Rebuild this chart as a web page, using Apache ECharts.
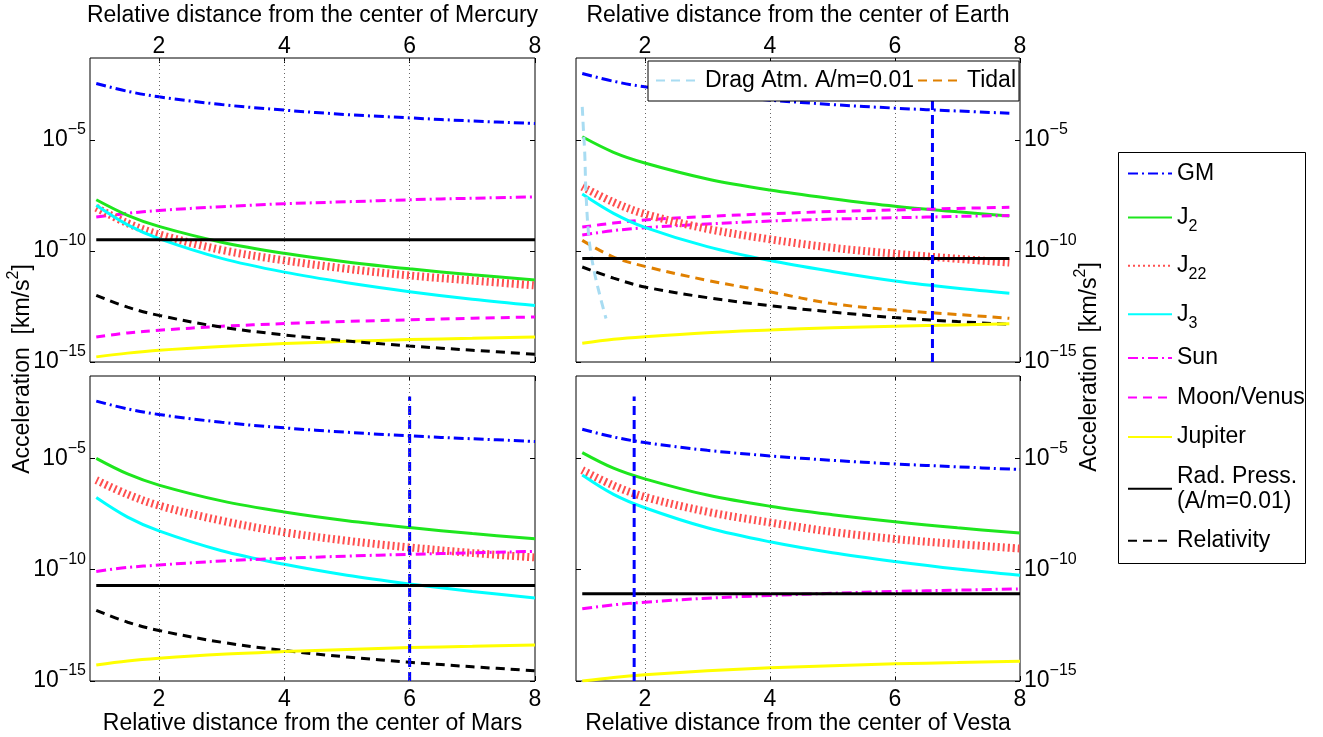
<!DOCTYPE html>
<html>
<head>
<meta charset="utf-8">
<script src="https://cdn.jsdelivr.net/npm/echarts@6/dist/echarts.min.js"></script>
<style>
html, body { margin: 0; padding: 0; background: #fff; }
#main { width: 1323px; height: 737px; }
</style>
</head>
<body>
<div id="main"></div>
<script>
// distance samples (in planet radii)
var xs = [1, 1.5, 2, 3, 4, 5, 6, 7, 8];
var xsEarth = [1, 1.5, 2, 3, 4, 5, 6, 7, 7.83];
var xTicks = [2, 4, 6, 8];
var yTicks = [1e-15, 1e-10, 1e-5];
var gridX = [2, 4, 6];
var gridY = [1e-10, 1e-5];

// Mercury
var mercuryGM = [3.55e-3, 1.58e-3, 8.91e-4, 3.98e-4, 2.24e-4, 1.41e-4, 1.0e-4, 7.24e-5, 5.62e-5];
var mercuryJ2 = [2.04e-8, 4.07e-9, 1.29e-9, 2.51e-10, 7.94e-11, 3.24e-11, 1.58e-11, 8.51e-12, 5.01e-12];
var mercuryJ22 = [8.91e-9, 1.78e-9, 5.62e-10, 1.12e-10, 3.80e-11, 1.58e-11, 7.94e-12, 4.68e-12, 2.82e-12];
var mercuryJ3 = [1.15e-8, 1.51e-9, 3.63e-10, 4.68e-11, 1.12e-11, 3.72e-12, 1.48e-12, 6.76e-13, 3.55e-13];
var mercurySun = [3.39e-9, 5.01e-9, 6.76e-9, 1.0e-8, 1.35e-8, 1.66e-8, 2.04e-8, 2.40e-8, 2.75e-8];
var mercuryVenus = [1.35e-14, 2.04e-14, 2.69e-14, 4.07e-14, 5.37e-14, 6.76e-14, 7.94e-14, 9.33e-14, 1.07e-13];
var mercuryJupiter = [1.70e-15, 2.51e-15, 3.39e-15, 5.01e-15, 6.76e-15, 8.51e-15, 1.02e-14, 1.17e-14, 1.35e-14];
var mercuryRel = [1.0e-12, 2.95e-13, 1.26e-13, 3.72e-14, 1.66e-14, 8.91e-15, 5.25e-15, 3.39e-15, 2.24e-15];

// Earth
var earthGM = [1.0e-2, 4.47e-3, 2.51e-3, 1.12e-3, 6.31e-4, 3.98e-4, 2.75e-4, 2.04e-4, 1.62e-4];
var earthJ2 = [1.41e-5, 2.82e-6, 9.33e-7, 1.78e-7, 5.62e-8, 2.29e-8, 1.05e-8, 5.89e-9, 3.80e-9];
var earthJ22 = [7.94e-8, 1.58e-8, 4.68e-9, 1.0e-9, 3.39e-10, 1.41e-10, 7.59e-11, 4.47e-11, 3.02e-11];
var earthJ3 = [3.72e-8, 5.01e-9, 1.17e-9, 1.58e-10, 3.72e-11, 1.20e-11, 4.47e-12, 2.09e-12, 1.26e-12];
var earthSun = [5.25e-10, 8.32e-10, 1.12e-9, 1.66e-9, 2.24e-9, 2.75e-9, 3.16e-9, 3.63e-9, 3.98e-9];
var earthMoon = [1.20e-9, 1.82e-9, 2.51e-9, 3.63e-9, 4.79e-9, 6.03e-9, 7.08e-9, 8.32e-9, 9.33e-9];
var earthJupiter = [6.92e-15, 1.05e-14, 1.38e-14, 2.09e-14, 2.75e-14, 3.47e-14, 4.07e-14, 4.68e-14, 5.25e-14];
var earthRel = [1.91e-11, 6.03e-12, 2.40e-12, 7.94e-13, 3.47e-13, 1.78e-13, 1.0e-13, 6.61e-14, 5.01e-14];
var earthTidal = [3.02e-10, 5.37e-11, 2.04e-11, 4.79e-12, 1.45e-12, 4.27e-13, 2.19e-13, 1.38e-13, 9.33e-14];
var dragX = [1.0, 1.02, 1.04, 1.06, 1.11, 1.19, 1.3, 1.38];
var earthDrag = [3.16e-4, 2.51e-5, 2.51e-6, 3.98e-8, 3.16e-10, 1.26e-11, 6.31e-13, 9.12e-14];

// Mars
var marsGM = [3.72e-3, 1.66e-3, 9.33e-4, 4.17e-4, 2.34e-4, 1.48e-4, 1.02e-4, 7.59e-5, 5.75e-5];
var marsJ2 = [1.0e-5, 2.0e-6, 6.31e-7, 1.23e-7, 3.89e-8, 1.58e-8, 7.76e-9, 4.17e-9, 2.45e-9];
var marsJ22 = [1.05e-6, 2.40e-7, 7.59e-8, 1.58e-8, 4.79e-9, 2.0e-9, 1.0e-9, 5.62e-10, 3.55e-10];
var marsJ3 = [1.74e-7, 2.29e-8, 5.50e-9, 7.08e-10, 1.74e-10, 5.62e-11, 2.29e-11, 1.05e-11, 5.37e-12];
var marsSun = [8.32e-11, 1.26e-10, 1.62e-10, 2.45e-10, 3.24e-10, 4.07e-10, 4.90e-10, 5.75e-10, 6.61e-10];
var marsRel = [1.48e-12, 4.37e-13, 1.86e-13, 5.50e-14, 2.34e-14, 1.20e-14, 6.92e-15, 4.37e-15, 2.88e-15];
var marsJupiter = [5.25e-15, 7.94e-15, 1.05e-14, 1.58e-14, 2.09e-14, 2.63e-14, 3.16e-14, 3.63e-14, 4.17e-14];

// Vesta
var vestaGM = [2.04e-4, 9.12e-5, 5.13e-5, 2.29e-5, 1.29e-5, 8.13e-6, 5.62e-6, 4.17e-6, 3.16e-6];
var vestaJ2 = [1.82e-5, 3.63e-6, 1.20e-6, 2.24e-7, 7.08e-8, 2.95e-8, 1.41e-8, 7.59e-9, 4.47e-9];
var vestaJ22 = [2.95e-6, 6.03e-7, 1.86e-7, 3.98e-8, 1.32e-8, 5.01e-9, 2.40e-9, 1.41e-9, 8.91e-10];
var vestaJ3 = [1.78e-6, 2.40e-7, 6.03e-8, 7.59e-9, 1.78e-9, 5.75e-10, 2.34e-10, 1.07e-10, 5.62e-11];
var vestaSun = [1.74e-12, 2.63e-12, 3.47e-12, 5.25e-12, 6.92e-12, 8.71e-12, 1.05e-11, 1.20e-11, 1.38e-11];
var vestaJupiter = [1.0e-15, 1.45e-15, 1.91e-15, 2.88e-15, 3.89e-15, 4.90e-15, 5.89e-15, 6.76e-15, 7.76e-15];

// radiation pressure (constant) for Mercury, Earth, Mars, Vesta
var radPress = [3.2e-10, 4.57e-11, 1.95e-11, 8.32e-12];
// synchronous orbit markers for Earth, Mars, Vesta
var syncOrbit = [6.6, 6.0, 1.83];
var syncSpan = [1e-15, 6e-3];

var FONT = '"Liberation Sans", Arial, Helvetica, sans-serif';
var FS = 23;
var RAD = 'Rad. Press. (A/m=0.01)';
var DRAG = 'Drag Atm. A/m=0.01';

var styles = {
    'GM': { color: '#0000ff', type: [10, 4, 2, 4], width: 3 },
    'J2': { color: '#1ee61e', type: 'solid', width: 3 },
    'J22': { color: '#ff4f4f', type: [2, 3], width: 8 },
    'J3': { color: '#00ffff', type: 'solid', width: 3 },
    'Sun': { color: '#ff00ff', type: [10, 4, 2, 4], width: 3 },
    'Moon/Venus': { color: '#ff00ff', type: [9, 6], width: 3 },
    'Jupiter': { color: '#ffff00', type: 'solid', width: 3 },
    'Rad. Press. (A/m=0.01)': { color: '#000000', type: 'solid', width: 3 },
    'Relativity': { color: '#000000', type: [9, 6], width: 3 },
    'Drag Atm. A/m=0.01': { color: '#a8dcf2', type: [9, 6], width: 3 },
    'Tidal': { color: '#e08000', type: [9, 6], width: 3 }
};

var panels = [
    { planet: 'Mercury', x: xs, top: true, right: false, sync: null,
      curves: [['GM', mercuryGM], ['Sun', mercurySun], ['J2', mercuryJ2], ['J22', mercuryJ22], ['J3', mercuryJ3],
               ['Moon/Venus', mercuryVenus], ['Jupiter', mercuryJupiter], ['Relativity', mercuryRel]] },
    { planet: 'Earth', x: xsEarth, top: true, right: true, sync: syncOrbit[0],
      curves: [['GM', earthGM], ['J2', earthJ2], ['Moon/Venus', earthMoon], ['Sun', earthSun], ['J22', earthJ22],
               ['J3', earthJ3], ['Tidal', earthTidal], ['Relativity', earthRel], ['Jupiter', earthJupiter],
               [DRAG, earthDrag, dragX]] },
    { planet: 'Mars', x: xs, top: false, right: false, sync: syncOrbit[1],
      curves: [['GM', marsGM], ['J2', marsJ2], ['J22', marsJ22], ['J3', marsJ3], ['Sun', marsSun],
               ['Relativity', marsRel], ['Jupiter', marsJupiter]] },
    { planet: 'Vesta', x: xs, top: false, right: true, sync: syncOrbit[2],
      curves: [['GM', vestaGM], ['J2', vestaJ2], ['J22', vestaJ22], ['J3', vestaJ3], ['Sun', vestaSun],
               ['Jupiter', vestaJupiter]] }
];

var gridBoxes = [
    { left: 90, top: 58, width: 445, height: 304 },
    { left: 576, top: 58, width: 444, height: 304 },
    { left: 90, top: 376, width: 445, height: 305 },
    { left: 576, top: 376, width: 444, height: 305 }
];

function pairs(xArr, yArr) {
    return yArr.map(function (v, i) { return [xArr[i], v]; });
}

var supRich = {
    b: { fontSize: FS, fontFamily: FONT, color: '#000', lineHeight: FS },
    e: { fontSize: 16, fontFamily: FONT, color: '#000', padding: [0, 0, 20, 0], lineHeight: 36 }
};

function powLabel(v) {
    var p = Math.round(Math.log(v) / Math.LN10);
    return '{b|10}{e|\u2212' + (-p) + '}';
}

var tickStyle = { inside: true, length: 5, lineStyle: { color: '#000' } };

var grid = [], xAxis = [], yAxis = [], series = [];

panels.forEach(function (p, i) {
    grid.push({
        left: gridBoxes[i].left, top: gridBoxes[i].top,
        width: gridBoxes[i].width, height: gridBoxes[i].height,
        show: true, borderColor: '#000', borderWidth: 1, backgroundColor: 'transparent'
    });
    xAxis.push({
        type: 'value', gridIndex: i, min: 0.9, max: 8,
        position: p.top ? 'top' : 'bottom',
        name: 'Relative distance from the center of ' + p.planet,
        nameLocation: 'middle', nameGap: p.top ? 31 : 28,
        nameTextStyle: { fontSize: FS, color: '#000', fontFamily: FONT },
        axisLine: { show: false },
        splitLine: { show: false },
        axisTick: echarts.util.extend({ customValues: xTicks }, tickStyle),
        axisLabel: {
            fontSize: FS, color: '#000', fontFamily: FONT, verticalAlign: 'middle',
            margin: p.top ? 11 : 19, customValues: xTicks
        }
    });
    yAxis.push({
        type: 'log', logBase: 10, gridIndex: i, min: 1e-15, max: 0.05,
        position: p.right ? 'right' : 'left',
        axisLine: { show: false },
        splitLine: { show: false },
        axisTick: echarts.util.extend({ customValues: yTicks }, tickStyle),
        axisLabel: { margin: 4, customValues: yTicks, formatter: powLabel, rich: supRich }
    });
});

// mirrored tick marks on the opposite sides of each box
panels.forEach(function (p, i) {
    xAxis.push({
        type: 'value', gridIndex: i, min: 0.9, max: 8,
        position: p.top ? 'bottom' : 'top',
        axisLine: { show: false }, splitLine: { show: false },
        axisTick: echarts.util.extend({ customValues: xTicks }, tickStyle),
        axisLabel: { show: false }
    });
    yAxis.push({
        type: 'log', logBase: 10, gridIndex: i, min: 1e-15, max: 0.05,
        position: p.right ? 'left' : 'right',
        axisLine: { show: false }, splitLine: { show: false },
        axisTick: echarts.util.extend({ customValues: yTicks }, tickStyle),
        axisLabel: { show: false }
    });
});

panels.forEach(function (p, i) {
    p.curves.forEach(function (c) {
        var st = styles[c[0]];
        series.push({
            name: c[0], type: 'line', xAxisIndex: i, yAxisIndex: i,
            data: pairs(c[2] || p.x, c[1]),
            symbol: 'none', smooth: 0.35, silent: true,
            lineStyle: { color: st.color, type: st.type, width: st.width },
            itemStyle: { color: st.color }
        });
    });

    // radiation pressure line, carries the dotted grid lines
    var rs = styles[RAD];
    series.push({
        name: RAD, type: 'line', xAxisIndex: i, yAxisIndex: i,
        data: [[p.x[0], radPress[i]], [p.x[p.x.length - 1], radPress[i]]],
        symbol: 'none', silent: true,
        lineStyle: { color: rs.color, type: rs.type, width: rs.width },
        itemStyle: { color: rs.color },
        markLine: {
            silent: true, symbol: ['none', 'none'], label: { show: false },
            lineStyle: { color: '#666', type: [1, 3], width: 1 },
            data: gridX.map(function (v) { return { xAxis: v }; })
                .concat(gridY.map(function (v) { return { yAxis: v }; }))
        }
    });

    if (p.sync != null) {
        series.push({
            name: 'sync', type: 'line', xAxisIndex: i, yAxisIndex: i,
            data: [[p.sync, syncSpan[0]], [p.sync, syncSpan[1]]],
            symbol: 'none', silent: true,
            lineStyle: { color: '#0000ff', type: [9, 5], width: 3 }
        });
    }
});

function legendLabel(name) {
    if (name === 'J2') return '{m|J}{s|2}';
    if (name === 'J22') return '{m|J}{s|22}';
    if (name === 'J3') return '{m|J}{s|3}';
    if (name === RAD) return 'Rad. Press.\n(A/m=0.01)';
    return name;
}

var option = {
    animation: false,
    backgroundColor: '#fff',
    textStyle: { fontFamily: FONT },
    grid: grid,
    xAxis: xAxis,
    yAxis: yAxis,
    legend: [{
        data: ['GM', 'J2', 'J22', 'J3', 'Sun', 'Moon/Venus', 'Jupiter', RAD, 'Relativity'],
        orient: 'vertical', left: 1127, top: 161, padding: 0, itemGap: 14.4,
        itemWidth: 44, itemHeight: 2, selectedMode: false, z: 4,
        itemStyle: { opacity: 0 },
        formatter: legendLabel,
        textStyle: {
            fontSize: FS, color: '#000', fontFamily: FONT, lineHeight: 25,
            rich: {
                m: { fontSize: FS, fontFamily: FONT, color: '#000', lineHeight: 25 },
                s: { fontSize: 16, fontFamily: FONT, color: '#000', padding: [18, 0, 0, 0], lineHeight: 34 }
            }
        }
    }, {
        data: [DRAG, 'Tidal'],
        orient: 'horizontal', left: 648, top: 61, padding: [8, 3, 9, 7], itemGap: 3,
        itemWidth: 44, itemHeight: 2, selectedMode: false, z: 6,
        itemStyle: { opacity: 0 },
        backgroundColor: '#fff', borderColor: '#000', borderWidth: 1,
        textStyle: { fontSize: FS, color: '#000', fontFamily: FONT, lineHeight: 23 }
    }],
    graphic: [{
        type: 'rect', z: 1,
        shape: { x: 1118.5, y: 152.5, width: 187, height: 411 },
        style: { fill: '#fff', stroke: '#000', lineWidth: 1 }
    }, {
        type: 'text', x: 23, y: 369, rotation: Math.PI / 2,
        style: {
            text: '{a|Acceleration  [km/s}{s|2}{a|]}', align: 'center', verticalAlign: 'middle', fill: '#000',
            rich: {
                a: { fontSize: FS, fontFamily: FONT, fill: '#000', lineHeight: FS },
                s: { fontSize: 16, fontFamily: FONT, fill: '#000', padding: [0, 0, 18, 0], lineHeight: 34 }
            }
        }
    }, {
        type: 'text', x: 1090, y: 367, rotation: Math.PI / 2,
        style: {
            text: '{a|Acceleration  [km/s}{s|2}{a|]}', align: 'center', verticalAlign: 'middle', fill: '#000',
            rich: {
                a: { fontSize: FS, fontFamily: FONT, fill: '#000', lineHeight: FS },
                s: { fontSize: 16, fontFamily: FONT, fill: '#000', padding: [0, 0, 18, 0], lineHeight: 34 }
            }
        }
    }],
    series: series
};

var chart = echarts.init(document.getElementById('main'));
chart.setOption(option);
</script>
</body>
</html>
